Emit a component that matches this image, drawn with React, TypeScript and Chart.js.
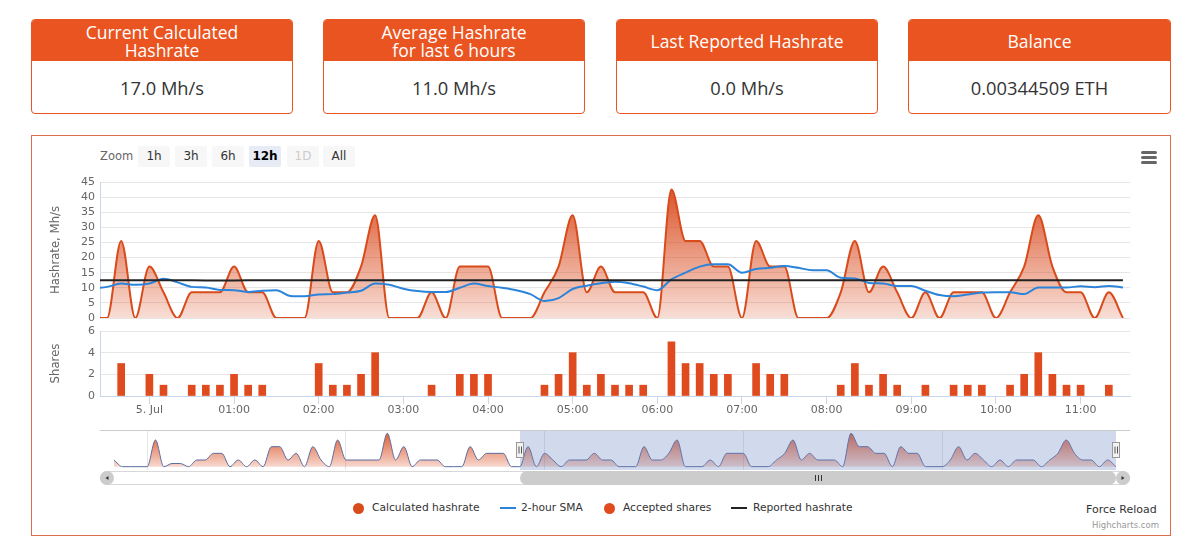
import React, { useEffect, useRef } from "react";
import { Chart, registerables } from "chart.js";

Chart.register(...registerables);
Chart.defaults.font.family = "'DejaVu Sans', Verdana, sans-serif";

// ---------------- DATA ----------------
// time axis: minutes relative to 5 Jul 00:00, 10-minute points
const HISTORY_START_MIN = -520;
const MAIN_START_MIN = -40;
const STEP_MIN = 10;

// navigator-only history (4 Jul 15:20 .. 23:10), Mh/s
const historyHashrate = [
  8.5, 0, 0, 0, 0, 34, 0, 4, 4, 0, 8.5, 8.5, 17, 17, 0, 8.5, 0, 8.5, 0, 25.5,
  25.5, 8.5, 17, 0, 25.5, 8.5, 0, 34, 8.5, 8.5, 8.5, 8.5, 8.5, 42.5, 8.5, 25.5,
  0, 8.5, 8.5, 8.5, 0, 0, 0, 25.5, 8.5, 17, 17, 17,
];

// calculated hashrate (4 Jul 23:20 .. 5 Jul 11:30), Mh/s
const hashrate = [
  0, 0, 25.5, 0, 17, 8.5, 0, 8.5, 8.5, 8.5, 17, 8.5, 8.5, 0, 0, 0, 25.5, 8.5,
  8.5, 17, 34, 0, 0, 0, 8.5, 0, 17, 17, 17, 0, 0, 0, 8.5, 17, 34, 8.5, 17, 8.5,
  8.5, 8.5, 0, 42.5, 25.5, 25.5, 17, 17, 0, 25.5, 17, 17, 0, 0, 0, 8.5, 25.5,
  8.5, 17, 8.5, 0, 8.5, 0, 8.5, 8.5, 8.5, 0, 8.5, 17, 34, 17, 8.5, 8.5, 0, 8.5, 0,
];

// 2-hour SMA, Mh/s
const sma2h = [
  9.8, 10.3, 11.4, 11.0, 11.4, 13.0, 11.8, 10.3, 10.1, 9.3, 9.2, 8.6, 9.0, 9.2,
  7.3, 7.2, 7.8, 7.9, 8.4, 9.0, 11.4, 11.0, 9.7, 8.9, 8.6, 8.6, 10.0, 11.4, 10.6,
  10.0, 9.2, 7.9, 5.6, 6.6, 9.6, 10.7, 11.5, 12.0, 11.5, 10.4, 9.2, 12.8, 15.0,
  17.0, 17.8, 17.8, 15.0, 16.2, 16.6, 17.2, 16.6, 15.8, 15.8, 13.3, 13.1, 11.6,
  11.4, 10.6, 10.6, 9.0, 7.6, 7.2, 7.8, 8.4, 8.5, 8.5, 7.9, 10.1, 10.1, 10.1,
  10.5, 10.2, 10.6, 10.1,
];

// reported hashrate, Mh/s
const reported = [
  12.5, 12.5, 12.5, 12.5, 12.5, 12.5, 12.5, 12.5, 12.4, 12.4, 12.4, 12.5, 12.5,
  12.5, 12.5, 12.5, 12.5, 12.5, 12.5, 12.5, 12.5, 12.5, 12.5, 12.5, 12.5, 12.5,
  12.5, 12.5, 12.5, 12.5, 12.5, 12.5, 12.5, 12.5, 12.5, 12.5, 12.5, 12.5, 12.5,
  12.5, 12.5, 12.5, 12.5, 12.5, 12.5, 12.5, 12.5, 12.5, 12.5, 12.5, 12.5, 12.5,
  12.5, 12.5, 12.5, 12.5, 12.5, 12.5, 12.5, 12.5, 12.5, 12.5, 12.5, 12.5, 12.5,
  12.5, 12.5, 12.5, 12.5, 12.5, 12.5, 12.5, 12.5, 12.5,
];

// accepted shares
const shareMinutes = [
  -20, 0, 10, 30, 40, 50, 60, 70, 80, 120, 130, 140, 150, 160, 200, 220, 230,
  240, 280, 290, 300, 310, 320, 330, 340, 350, 370, 380, 390, 400, 410, 430,
  440, 450, 490, 500, 510, 520, 530, 550, 570, 580, 590, 610, 620, 630, 640,
  650, 660, 680,
];
const shareCounts = [
  3, 2, 1, 1, 1, 1, 2, 1, 1, 3, 1, 1, 2, 4, 1, 2, 2, 2, 1, 2, 4, 1, 2, 1, 1, 1,
  5, 3, 3, 2, 2, 3, 2, 2, 1, 3, 1, 2, 1, 1, 1, 1, 1, 1, 2, 4, 2, 1, 1, 1,
];

const hourTickMinutes = [0, 60, 120, 180, 240, 300, 360, 420, 480, 540, 600, 660];
const hourTickLabels = ["5. Jul", "01:00", "02:00", "03:00", "04:00", "05:00", "06:00", "07:00", "08:00", "09:00", "10:00", "11:00"];
const navTickMinutes = [-480, -240, 0, 240, 480];
const navTickLabels = ["16:00", "20:00", "5. Jul", "04:00", "08:00"];

const MAIN_MIN = -35;
const MAIN_MAX = 695;
const NAV_MIN = -537;
const NAV_MAX = 707;
const NAV_SEL_MIN = -30;
const NAV_SEL_MAX = 690;

const cards = [
  { title: ["Current Calculated", "Hashrate"], value: "17.0 Mh/s" },
  { title: ["Average Hashrate", "for last 6 hours"], value: "11.0 Mh/s" },
  { title: ["Last Reported Hashrate"], value: "0.0 Mh/s" },
  { title: ["Balance"], value: "0.00344509 ETH" },
];
const zoomButtons = ["1h", "3h", "6h", "12h", "1D", "All"];
const SELECTED_BUTTON = "12h";
const DISABLED_BUTTON = "1D";

// ---------------- STYLE ----------------
const ORANGE = "#E95420";
const HASH_LINE = "#D84B1B";
const BAR_COLOR = "#DF4A1E";
const SMA_COLOR = "#2B83DA";
const REP_COLOR = "#222222";

const histPoints = historyHashrate.map((y, i) => ({ x: HISTORY_START_MIN + i * STEP_MIN, y }));
const mainPoints = hashrate.map((y, i) => ({ x: MAIN_START_MIN + i * STEP_MIN, y }));
const smaPoints = sma2h.map((y, i) => ({ x: MAIN_START_MIN + i * STEP_MIN, y }));
const repPoints = reported.map((y, i) => ({ x: MAIN_START_MIN + i * STEP_MIN, y }));
const sharePoints = shareMinutes.map((x, i) => ({ x, y: shareCounts[i] }));

function areaGradient(c: any, a0: number, a1: number) {
  const chart = c.chart;
  const area = chart.chartArea;
  if (!area) return "rgba(217,72,27,0.5)";
  const g = chart.ctx.createLinearGradient(0, area.top, 0, area.bottom);
  g.addColorStop(0, `rgba(217,72,27,${a0})`);
  g.addColorStop(1, `rgba(217,72,27,${a1})`);
  return g;
}

const navPlugin = {
  id: "navDecor",
  afterDraw(chart: any) {
    const { ctx, chartArea } = chart;
    const { left, right, top, bottom } = chartArea;
    const xs = chart.scales.x;
    const x1 = Math.round(xs.getPixelForValue(NAV_SEL_MIN));
    const x2 = Math.round(xs.getPixelForValue(NAV_SEL_MAX));
    ctx.save();
    // mask
    ctx.fillStyle = "rgba(102,133,194,0.3)";
    ctx.fillRect(x1, top, x2 - x1, bottom - top);
    // outline
    ctx.strokeStyle = "#CCCCCC";
    ctx.lineWidth = 1;
    ctx.beginPath();
    ctx.moveTo(left, top + 0.5);
    ctx.lineTo(right, top + 0.5);
    ctx.stroke();
    // scrollbar track
    const sy = bottom + 1;
    const sh = 14;
    ctx.fillStyle = "#FFFFFF";
    ctx.strokeStyle = "#D8D8D8";
    ctx.beginPath();
    ctx.roundRect(left + 0.5, sy + 0.5, right - left - 1, sh - 1, 7);
    ctx.fill();
    ctx.stroke();
    // thumb
    ctx.fillStyle = "#CCCCCC";
    ctx.beginPath();
    ctx.roundRect(x1, sy, x2 - x1, sh, 7);
    ctx.fill();
    // buttons
    ctx.beginPath();
    ctx.arc(left + 7, sy + 7, 7, 0, Math.PI * 2);
    ctx.fill();
    ctx.beginPath();
    ctx.arc(right - 7, sy + 7, 7, 0, Math.PI * 2);
    ctx.fill();
    ctx.fillStyle = "#333333";
    ctx.beginPath();
    ctx.moveTo(left + 5.5, sy + 7);
    ctx.lineTo(left + 8.5, sy + 5);
    ctx.lineTo(left + 8.5, sy + 9);
    ctx.closePath();
    ctx.fill();
    ctx.beginPath();
    ctx.moveTo(right - 5.5, sy + 7);
    ctx.lineTo(right - 8.5, sy + 5);
    ctx.lineTo(right - 8.5, sy + 9);
    ctx.closePath();
    ctx.fill();
    // grip
    const cx = Math.round((x1 + x2) / 2) + 0.5;
    ctx.strokeStyle = "#333333";
    ctx.beginPath();
    for (const dx of [-3, 0, 3]) {
      ctx.moveTo(cx + dx, sy + 4);
      ctx.lineTo(cx + dx, sy + 10);
    }
    ctx.stroke();
    // handles
    const mid = Math.round((top + bottom) / 2);
    for (const hx of [x1, x2]) {
      ctx.fillStyle = "#F2F2F2";
      ctx.strokeStyle = "#999999";
      ctx.fillRect(hx - 3.5, mid - 7.5, 7, 15);
      ctx.strokeRect(hx - 3.5, mid - 7.5, 7, 15);
      ctx.strokeStyle = "#555555";
      ctx.beginPath();
      ctx.moveTo(hx - 1, mid - 3.5);
      ctx.lineTo(hx - 1, mid + 3.5);
      ctx.moveTo(hx + 1.5, mid - 3.5);
      ctx.lineTo(hx + 1.5, mid + 3.5);
      ctx.stroke();
    }
    ctx.restore();
  },
};

export default function App() {
  const hashRef = useRef<HTMLCanvasElement>(null);
  const sharesRef = useRef<HTMLCanvasElement>(null);
  const navRef = useRef<HTMLCanvasElement>(null);

  useEffect(() => {
    const charts: Chart[] = [];
    const yTickFont = { size: 11 };

    charts.push(
      new Chart(hashRef.current!, {
        type: "line",
        data: {
          datasets: [
            {
              label: "Reported hashrate",
              data: repPoints,
              borderColor: REP_COLOR,
              borderWidth: 2,
              pointRadius: 0,
              fill: false,
              order: 1,
            },
            {
              label: "2-hour SMA",
              data: smaPoints,
              borderColor: SMA_COLOR,
              borderWidth: 2,
              pointRadius: 0,
              fill: false,
              cubicInterpolationMode: "monotone",
              order: 2,
            },
            {
              label: "Calculated hashrate",
              data: mainPoints,
              borderColor: HASH_LINE,
              borderWidth: 2,
              pointRadius: 0,
              fill: "origin",
              backgroundColor: (c: any) => areaGradient(c, 0.97, 0.18),
              cubicInterpolationMode: "monotone",
              order: 3,
            },
          ],
        },
        options: {
          responsive: false,
          animation: false,
          events: [],
          layout: { padding: { left: 0, top: 12, right: 10, bottom: 12 } },
          plugins: { legend: { display: false }, tooltip: { enabled: false } },
          scales: {
            x: { type: "linear", min: MAIN_MIN, max: MAIN_MAX, display: false },
            y: {
              min: 0,
              max: 45,
              ticks: { stepSize: 5, color: "#666666", font: yTickFont, padding: 5, autoSkip: false },
              grid: { color: "#E6E6E6", drawTicks: false },
              border: { display: true, color: "#CCD6EB" },
              title: { display: true, text: "Hashrate, Mh/s", color: "#666666", font: { size: 11.7 } },
              afterFit: (s: any) => {
                s.width = 55;
              },
            },
          },
        },
      } as any)
    );

    charts.push(
      new Chart(sharesRef.current!, {
        type: "bar",
        data: {
          datasets: [
            {
              label: "Accepted shares",
              data: sharePoints,
              backgroundColor: BAR_COLOR,
              borderWidth: 0,
              barThickness: 7,
            },
          ],
        },
        options: {
          responsive: false,
          animation: false,
          events: [],
          layout: { padding: { left: 0, top: 12, right: 10, bottom: 2 } },
          plugins: { legend: { display: false }, tooltip: { enabled: false } },
          scales: {
            x: {
              type: "linear",
              min: MAIN_MIN,
              max: MAIN_MAX,
              offset: false,
              afterBuildTicks: (s: any) => {
                s.ticks = hourTickMinutes.map((v) => ({ value: v }));
              },
              ticks: {
                callback: (v: any) => {
                  const i = hourTickMinutes.indexOf(Number(v));
                  return i >= 0 ? hourTickLabels[i] : "";
                },
                color: "#666666",
                font: { size: 11, lineHeight: 1 },
                padding: 1,
                maxRotation: 0,
                autoSkip: false,
              },
              grid: { offset: false, drawOnChartArea: false, drawTicks: true, tickLength: 8, color: "#CCD6EB" },
              border: { display: true, color: "#CCD6EB" },
              afterFit: (s: any) => {
                s.height = 20;
              },
            },
            y: {
              min: 0,
              max: 6,
              ticks: { stepSize: 2, color: "#666666", font: yTickFont, padding: 5, autoSkip: false },
              grid: { color: "#E6E6E6", drawTicks: false },
              border: { display: true, color: "#CCD6EB" },
              title: { display: true, text: "Shares", color: "#666666", font: { size: 11.7 } },
              afterFit: (s: any) => {
                s.width = 55;
              },
            },
          },
        },
      } as any)
    );

    charts.push(
      new Chart(navRef.current!, {
        type: "line",
        data: {
          datasets: [
            {
              label: "Calculated hashrate",
              data: [...histPoints, ...mainPoints],
              borderColor: "#5B6BA0",
              borderWidth: 1,
              pointRadius: 0,
              fill: "origin",
              backgroundColor: (c: any) => areaGradient(c, 0.95, 0.15),
              cubicInterpolationMode: "monotone",
            },
          ],
        },
        options: {
          responsive: false,
          animation: false,
          events: [],
          layout: { padding: { left: 5, top: 5, right: 5, bottom: 20 } },
          plugins: { legend: { display: false }, tooltip: { enabled: false } },
          scales: {
            x: {
              type: "linear",
              min: NAV_MIN,
              max: NAV_MAX,
              position: "bottom",
              afterBuildTicks: (s: any) => {
                s.ticks = navTickMinutes.map((v) => ({ value: v }));
              },
              ticks: {
                callback: (v: any) => {
                  const i = navTickMinutes.indexOf(Number(v));
                  return i >= 0 ? navTickLabels[i] : "";
                },
                color: "#999999",
                font: { size: 11, lineHeight: 1.2 },
                align: "start",
                labelOffset: 4,
                padding: -15,
                maxRotation: 0,
                autoSkip: false,
                z: 1,
              },
              grid: { color: "#E6E6E6", drawTicks: false, drawOnChartArea: true },
              border: { display: false },
              afterFit: (s: any) => {
                s.height = 0;
              },
            },
            y: { display: false, min: -4.25, max: 46.75 },
          },
        },
        plugins: [navPlugin],
      } as any)
    );

    return () => charts.forEach((c) => c.destroy());
  }, []);

  const cardLefts = [31, 323, 616, 908];
  const btnLefts = [138, 175, 212, 249, 287, 323];
  const txt = "'DejaVu Sans', Verdana, sans-serif";

  return (
    <div style={{ position: "absolute", left: 0, top: 0, width: 1190, height: 542, background: "#fff", overflow: "hidden" }}>
      {cards.map((c, i) => (
        <div
          key={i}
          style={{
            position: "absolute",
            left: cardLefts[i],
            top: 19,
            width: i === 3 ? 263 : 262,
            height: 95,
            border: `1px solid ${ORANGE}`,
            borderRadius: 4,
            boxSizing: "border-box",
            overflow: "hidden",
            fontFamily: "'Open Sans', 'Noto Sans', sans-serif",
          }}
        >
          <div
            style={{
              height: 41,
              background: ORANGE,
              color: "#fff",
              display: "flex",
              flexDirection: "column",
              alignItems: "center",
              justifyContent: "center",
              fontSize: 17.5,
              lineHeight: "18px",
            }}
          >
            {c.title.map((t, j) => (
              <div key={j}>{t}</div>
            ))}
          </div>
          <div
            style={{
              height: 52,
              display: "flex",
              alignItems: "center",
              justifyContent: "center",
              fontSize: 18.3,
              color: "#333",
            }}
          >
            {c.value}
          </div>
        </div>
      ))}

      <div
        style={{
          position: "absolute",
          left: 31,
          top: 135,
          width: 1140,
          height: 401,
          border: "1px solid #DC6E4B",
          boxSizing: "border-box",
        }}
      />

      {/* range selector */}
      <div style={{ position: "absolute", left: 100, top: 148, lineHeight: "17px", fontSize: 11.5, color: "#666", fontFamily: txt }}>Zoom</div>
      {zoomButtons.map((b, i) => (
        <div
          key={b}
          style={{
            position: "absolute",
            left: btnLefts[i],
            top: 146,
            width: 32,
            height: 21,
            lineHeight: "20px",
            textAlign: "center",
            fontSize: 12,
            fontFamily: txt,
            background: b === SELECTED_BUTTON ? "#E6EBF5" : "#F7F7F7",
            color: b === DISABLED_BUTTON ? "#CCCCCC" : b === SELECTED_BUTTON ? "#000" : "#333",
            fontWeight: b === SELECTED_BUTTON ? 700 : 400,
            borderRadius: 2,
          }}
        >
          {b}
        </div>
      ))}

      {/* context menu icon */}
      {[151, 156, 161].map((y) => (
        <div key={y} style={{ position: "absolute", left: 1141, top: y, width: 16, height: 3, background: "#666", borderRadius: 1.5 }} />
      ))}

      <canvas ref={hashRef} width={1095} height={160} style={{ position: "absolute", left: 45, top: 170, width: 1095, height: 160 }} />
      <canvas ref={sharesRef} width={1095} height={99} style={{ position: "absolute", left: 45, top: 319, width: 1095, height: 99 }} />
      <canvas ref={navRef} width={1040} height={65} style={{ position: "absolute", left: 95, top: 425, width: 1040, height: 65 }} />

      {/* legend */}
      <div style={{ position: "absolute", left: 353, top: 502.5, width: 11, height: 11, borderRadius: "50%", background: HASH_LINE }} />
      <div style={{ position: "absolute", left: 372, top: 500, lineHeight: "16px", fontSize: 10.7, color: "#333", fontFamily: txt, whiteSpace: "nowrap" }}>Calculated hashrate</div>
      <div style={{ position: "absolute", left: 500, top: 507, width: 16, height: 2, background: SMA_COLOR }} />
      <div style={{ position: "absolute", left: 521, top: 500, lineHeight: "16px", fontSize: 10.7, color: "#333", fontFamily: txt, whiteSpace: "nowrap" }}>2-hour SMA</div>
      <div style={{ position: "absolute", left: 604, top: 502.5, width: 11, height: 11, borderRadius: "50%", background: BAR_COLOR }} />
      <div style={{ position: "absolute", left: 623, top: 500, lineHeight: "16px", fontSize: 10.7, color: "#333", fontFamily: txt, whiteSpace: "nowrap" }}>Accepted shares</div>
      <div style={{ position: "absolute", left: 731, top: 507, width: 16, height: 2, background: REP_COLOR }} />
      <div style={{ position: "absolute", left: 753, top: 500, lineHeight: "16px", fontSize: 10.7, color: "#333", fontFamily: txt, whiteSpace: "nowrap" }}>Reported hashrate</div>

      <div style={{ position: "absolute", left: 1086, top: 502, lineHeight: "16px", fontSize: 11, color: "#333", fontFamily: txt, whiteSpace: "nowrap" }}>Force Reload</div>
      <div style={{ position: "absolute", left: 1092, top: 519, lineHeight: "12px", fontSize: 8.5, color: "#999", fontFamily: txt, whiteSpace: "nowrap" }}>Highcharts.com</div>
    </div>
  );
}
